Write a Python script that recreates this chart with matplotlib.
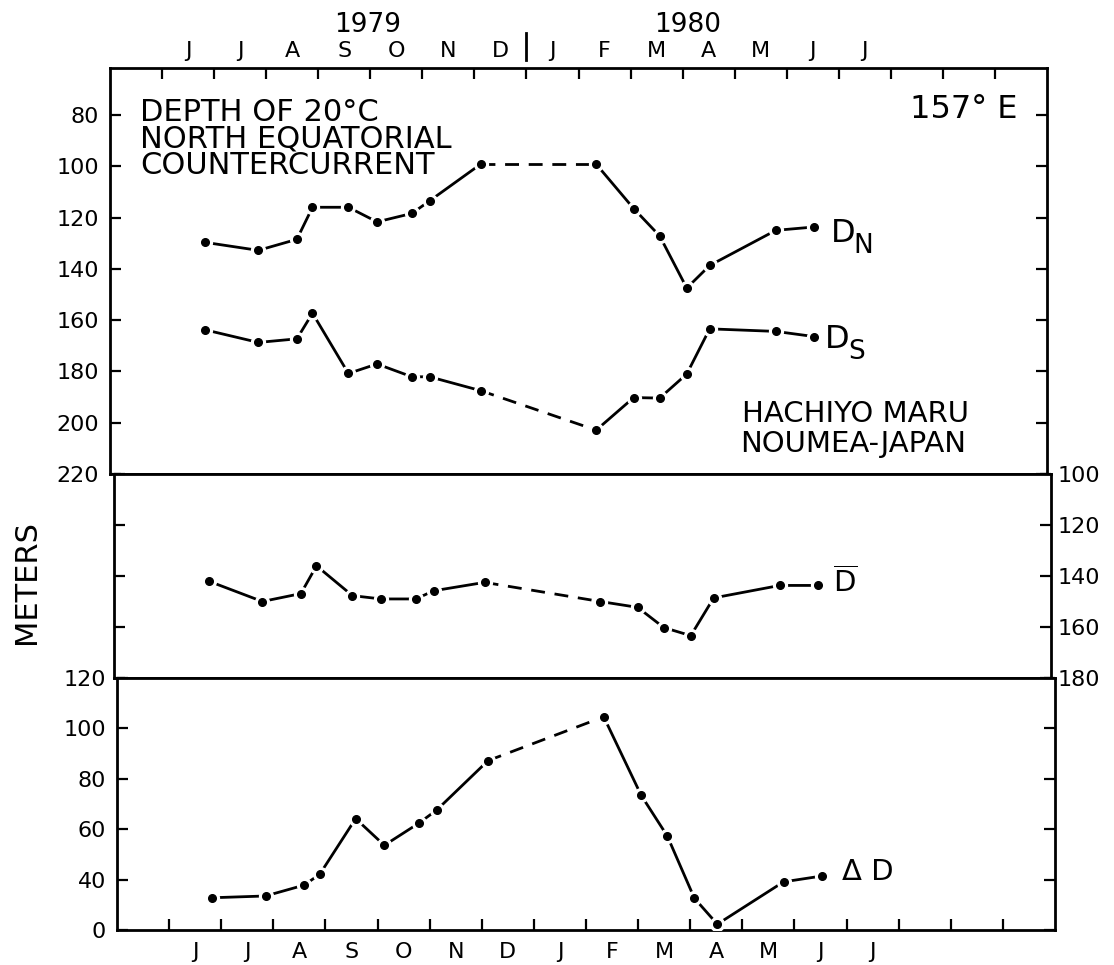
import numpy as np
import matplotlib
matplotlib.use("Agg")
import matplotlib.pyplot as plt
import matplotlib.transforms as mtransforms

plt.rcParams['font.family'] = ['DejaVu Sans']
plt.rcParams['mathtext.fontset'] = 'dejavusans'

# sampling times, months counted from 1 May 1979
months = [1.83, 2.85, 3.59, 3.89, 4.58, 5.13, 5.80, 6.14, 7.12,
          9.34, 10.06, 10.56, 11.08, 11.52, 12.79, 13.52]
# depth of 20C, north edge / south edge of the countercurrent (m)
d_north = [129.7, 132.8, 128.5, 116.0, 116.0, 121.7, 118.4, 113.5, 99.2,
           99.2, 116.5, 127.2, 147.5, 138.7, 125.0, 123.7]
d_south = [163.8, 168.7, 167.3, 157.3, 180.8, 177.1, 182.1, 182.1, 187.5,
           202.9, 190.2, 190.4, 181.0, 163.4, 164.4, 166.4]
d_mean = [142.1, 150.0, 146.9, 136.0, 147.7, 149.0, 149.0, 145.8, 142.5,
          150.0, 152.3, 160.2, 163.4, 148.6, 143.7, 143.7]
d_delta = [32.8, 33.5, 37.8, 42.1, 64.2, 53.6, 62.5, 67.7, 87.2,
           104.6, 73.4, 57.3, 32.6, 22.3, 39.1, 41.4]

month_labels = ['J', 'J', 'A', 'S', 'O', 'N', 'D', 'J', 'F', 'M', 'A', 'M', 'J', 'J']
top_ticks = [80, 100, 120, 140, 160, 180, 200, 220]
mid_ticks = [100, 120, 140, 160, 180]
bot_ticks = [20, 40, 60, 80, 100, 120]
bot_tick_labels = ['0', '40', '60', '80', '100', '120']

W, H = 1114, 965


def box(left, top, right, bottom):
    return [left / W, 1 - bottom / H, (right - left) / W, (bottom - top) / H]


def fpx(x, y):
    return x / W, 1 - y / H


def draw_series(ax, x, y):
    # solid line, dashed across the Dec-Feb gap, dots with a white halo
    kw = dict(color='black', lw=2.0, solid_capstyle='butt')
    ax.plot(x[:9], y[:9], **kw)
    ax.plot(x[8:10], y[8:10], dashes=(5, 3.5), **kw)
    ax.plot(x[9:], y[9:], **kw)
    ax.plot(x, y, 'o', ms=10, color='white', zorder=3)
    ax.plot(x, y, 'o', ms=5.5, color='black', zorder=4)


fig = plt.figure(figsize=(11.14, 9.65), dpi=100)
ax_top = fig.add_axes(box(110, 68, 1047, 474))
ax_mid = fig.add_axes(box(114, 474, 1051, 678))
ax_bot = fig.add_axes(box(117, 678, 1055, 930))

for ax in (ax_top, ax_mid, ax_bot):
    ax.set_xlim(0, 18)
    for sp in ax.spines.values():
        sp.set_linewidth(2)
    ax.tick_params(axis='both', which='major', direction='in', length=8,
                   width=1.6, labelsize=16, pad=8)

# top panel: D_N and D_S
draw_series(ax_top, months, d_north)
draw_series(ax_top, months, d_south)
ax_top.set_ylim(220, 61.7)
ax_top.set_yticks(top_ticks)
ax_top.tick_params(axis='y', left=True, right=True, labelleft=True, labelright=False)
ax_top.set_xticks(np.arange(1, 18))
ax_top.set_xticks(np.arange(1.5, 15), minor=True)
ax_top.set_xticklabels(month_labels, minor=True)
ax_top.tick_params(axis='x', which='major', top=True, bottom=False,
                   labeltop=False, labelbottom=False)
ax_top.tick_params(axis='x', which='minor', length=0, top=True, bottom=False,
                   labeltop=True, labelbottom=False, labelsize=16, pad=5)
trans = mtransforms.blended_transform_factory(ax_top.transData, ax_top.transAxes)
ax_top.plot([8, 8], [1.02, 1.085], transform=trans, clip_on=False, color='black', lw=2)

# middle panel: mean depth
draw_series(ax_mid, months, d_mean)
ax_mid.set_ylim(180, 100)
ax_mid.set_yticks(mid_ticks)
ax_mid.tick_params(axis='y', left=True, right=True, labelleft=False, labelright=True, pad=5)
ax_mid.tick_params(axis='x', which='both', top=False, bottom=False,
                   labeltop=False, labelbottom=False)

# bottom panel: difference
draw_series(ax_bot, months, d_delta)
ax_bot.set_ylim(20, 120)
ax_bot.set_yticks(bot_ticks)
ax_bot.set_yticklabels(bot_tick_labels)
ax_bot.tick_params(axis='y', left=True, right=True, labelleft=True, labelright=False)
ax_bot.set_xticks(np.arange(1, 18))
ax_bot.set_xticks(np.arange(1.5, 15), minor=True)
ax_bot.set_xticklabels(month_labels, minor=True)
ax_bot.tick_params(axis='x', which='major', top=False, bottom=True, labelbottom=False)
ax_bot.tick_params(axis='x', which='minor', length=0, labelsize=16, pad=9)

# curve names next to the last points
lab = dict(textcoords='offset pixels', ha='left', va='baseline', fontsize=23)
ax_top.annotate('D', (months[-1], d_north[-1]), xytext=(17, -15), **lab)
ax_top.annotate('N', (months[-1], d_north[-1]), xytext=(40, -26),
                textcoords='offset pixels', ha='left', va='baseline', fontsize=19)
ax_top.annotate('D', (months[-1], d_south[-1]), xytext=(11, -11), **lab)
ax_top.annotate('S', (months[-1], d_south[-1]), xytext=(34, -22),
                textcoords='offset pixels', ha='left', va='baseline', fontsize=19)
ax_mid.annotate(r'$\overline{\mathrm{D}}$', (months[-1], d_mean[-1]), xytext=(15, -7),
                textcoords='offset pixels', ha='left', va='baseline', fontsize=21)
ax_bot.annotate('Δ D', (months[-1], d_delta[-1]), xytext=(20, -4),
                textcoords='offset pixels', ha='left', va='baseline', fontsize=21)

# captions (multi-line text is anchored at the baseline of its last line)
fig.text(*fpx(140, 174), 'DEPTH OF 20°C\nNORTH EQUATORIAL\nCOUNTERCURRENT',
         fontsize=22, ha='left', va='baseline', linespacing=0.9)
fig.text(*fpx(910, 118), '157° E', fontsize=23, ha='left', va='baseline')
fig.text(*fpx(855, 422), 'HACHIYO MARU', fontsize=21, ha='center', va='baseline')
fig.text(*fpx(853, 452), 'NOUMEA-JAPAN', fontsize=21, ha='center', va='baseline')
fig.text(*fpx(368, 32), '1979', fontsize=19, ha='center', va='baseline')
fig.text(*fpx(688, 32), '1980', fontsize=19, ha='center', va='baseline')
fig.text(*fpx(26, 582), 'METERS', fontsize=22, rotation=90, ha='center', va='center')

fig.savefig('out.png', dpi=100)
